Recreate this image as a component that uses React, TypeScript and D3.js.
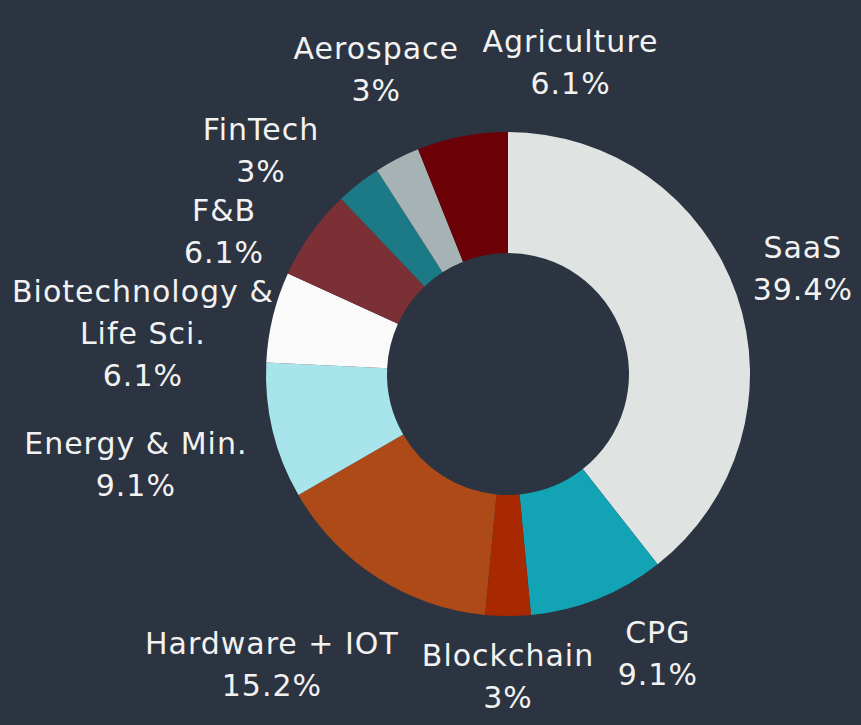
import { useEffect, useRef } from 'react'
import * as d3 from 'd3'

// companies per sector (33 total), clockwise from 12 o'clock
const sectors = ['SaaS', 'CPG', 'Blockchain', 'Hardware + IOT', 'Energy & Min.', 'Biotechnology & Life Sci.', 'F&B', 'FinTech', 'Aerospace', 'Agriculture']
const counts = [13, 3, 1, 5, 3, 2, 2, 1, 1, 2]
const percentLabels = ['39.4%', '9.1%', '3%', '15.2%', '9.1%', '6.1%', '6.1%', '3%', '3%', '6.1%']
const nameLines = [['SaaS'], ['CPG'], ['Blockchain'], ['Hardware + IOT'], ['Energy & Min.'], ['Biotechnology &', 'Life Sci.'], ['F&B'], ['FinTech'], ['Aerospace'], ['Agriculture']]
const colors = ['#dfe3e1', '#12a3b4', '#a82800', '#ad4a17', '#a8e4ec', '#fafafa', '#7b3035', '#1c7a86', '#a6b2b4', '#6b0006']

const W = 861
const H = 725

export default function App() {
  const ref = useRef<SVGSVGElement>(null)

  useEffect(() => {
    const cx = 508
    const cy = 374
    const outer = 242
    const inner = 121
    const lineH = 42
    const gap = 24

    const svg = d3.select(ref.current)
    svg.selectAll('*').remove()

    svg.append('rect').attr('width', W).attr('height', H).attr('fill', '#2b3440')

    const data = sectors.map((s, i) => ({ sector: s, count: counts[i], i }))
    const pie = d3.pie<any>().value(d => d.count).sort(null)
    const arc = d3.arc<any>().innerRadius(inner).outerRadius(outer)
    const arcs = pie(data)

    const g = svg.append('g').attr('transform', `translate(${cx},${cy})`)
    g.selectAll('path')
      .data(arcs)
      .join('path')
      .attr('d', arc)
      .attr('fill', d => colors[d.data.i])

    // labels: build text, measure, then spread out so they don't collide
    const labels = svg.append('g')
      .attr('font-family', '"DejaVu Sans", sans-serif')
      .attr('font-size', 30)
      .attr('letter-spacing', 1)
      .attr('fill', '#f2f2f2')

    const items = arcs.map((a, i) => {
      const lines = [...nameLines[i], percentLabels[i]]
      const t = labels.append('text').attr('text-anchor', 'middle')
      lines.forEach(l => t.append('tspan').text(l))
      const w = d3.max(t.selectAll<SVGTSpanElement, unknown>('tspan').nodes(), n => n.getComputedTextLength()) || 0
      const h = (lines.length - 1) * lineH + 30
      return { t, lines, w, h, angle: (a.startAngle + a.endAngle) / 2, x: 0, y: 0 }
    })

    const place = (it: any) => {
      const dx = Math.sin(it.angle)
      const dy = -Math.cos(it.angle)
      const dist = outer + gap + Math.abs(dx) * it.w / 2 + Math.abs(dy) * it.h / 2
      it.x = cx + dx * dist
      it.y = cy + dy * dist
    }
    const overlap = (a: any, b: any) =>
      Math.abs(a.x - b.x) < (a.w + b.w) / 2 + 22 && Math.abs(a.y - b.y) < (a.h + b.h) / 2 + 8

    items.forEach(place)
    for (let k = 0; k < 400; k++) {
      let moved = false
      for (let i = 0; i < items.length; i++) {
        const a = items[i]
        const b = items[(i + 1) % items.length]
        if (overlap(a, b)) {
          a.angle -= 0.004
          b.angle += 0.004
          place(a)
          place(b)
          moved = true
        }
      }
      if (!moved) break
    }

    items.forEach(it => {
      const x = Math.max(it.w / 2 + 12, Math.min(W - it.w / 2 - 8, it.x))
      const y0 = it.y - ((it.lines.length - 1) * lineH) / 2 + 11
      it.t.selectAll('tspan')
        .attr('x', x)
        .attr('y', (_d, j) => y0 + j * lineH)
    })
  }, [])

  return (
    <svg ref={ref} width={W} height={H} style={{ position: 'absolute', left: 0, top: 0 }} />
  )
}
